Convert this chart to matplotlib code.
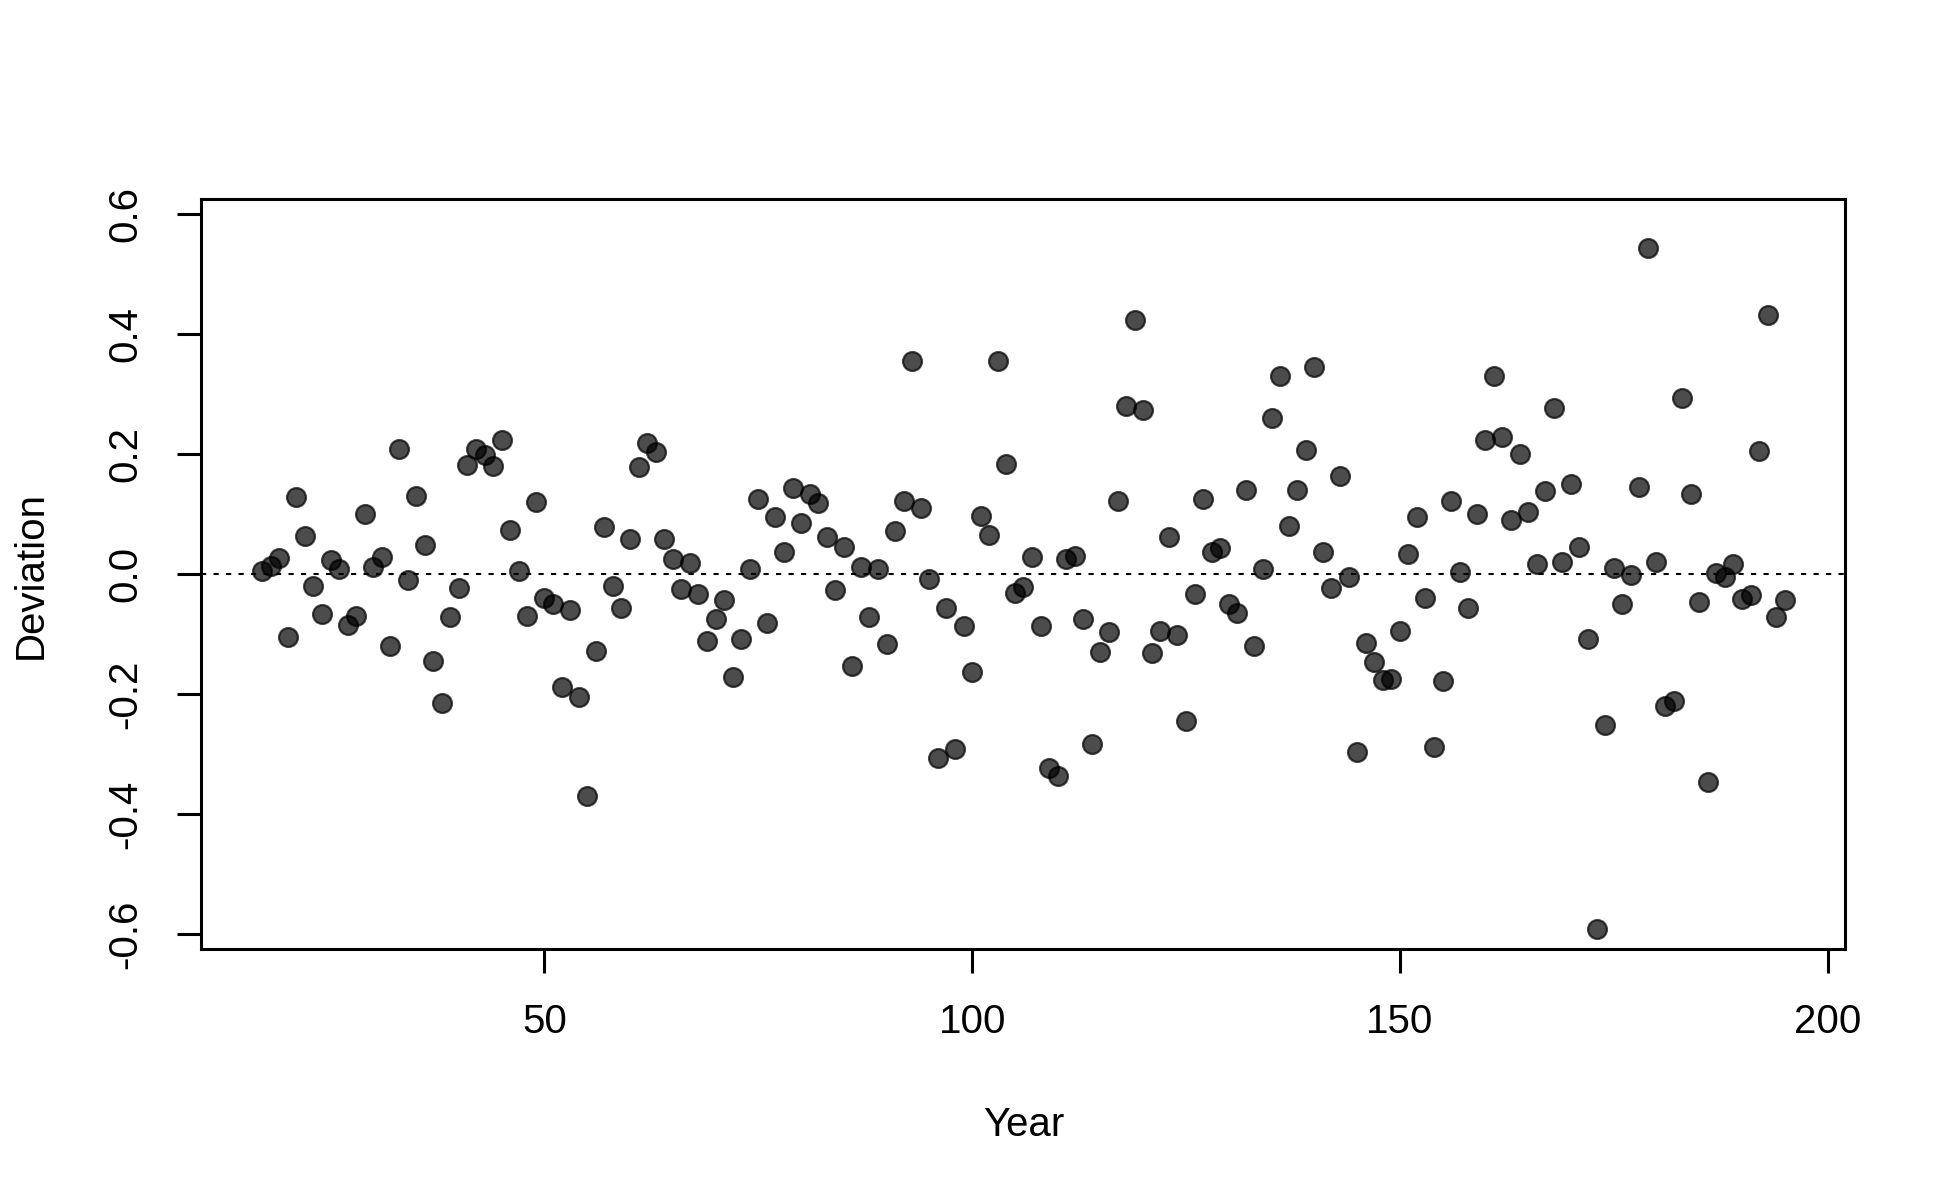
import numpy as np
import matplotlib
matplotlib.use("Agg")
import matplotlib.pyplot as plt

# one deviation per year, years 17..195
years = np.arange(17, 196)
deviation = [
    0.006, 0.014, 0.027, -0.105, 0.128, 0.064, -0.019, -0.066, 0.023, 0.008,
    -0.085, -0.070, 0.101, 0.012, 0.029, -0.120, 0.209, -0.010, 0.130, 0.048,
    -0.145, -0.215, -0.072, -0.023, 0.182, 0.209, 0.199, 0.180, 0.223, 0.074,
    0.006, -0.070, 0.120, -0.039, -0.050, -0.188, -0.060, -0.205, -0.370, -0.128,
    0.079, -0.019, -0.056, 0.058, 0.178, 0.219, 0.203, 0.058, 0.025, -0.025,
    0.019, -0.033, -0.112, -0.074, -0.043, -0.172, -0.108, 0.008, 0.126, -0.081,
    0.095, 0.037, 0.143, 0.085, 0.134, 0.118, 0.062, -0.027, 0.046, -0.153,
    0.012, -0.072, 0.008, -0.116, 0.072, 0.122, 0.356, 0.110, -0.008, -0.306,
    -0.056, -0.292, -0.087, -0.163, 0.097, 0.066, 0.356, 0.184, -0.031, -0.021,
    0.029, -0.087, -0.323, -0.337, 0.025, 0.031, -0.074, -0.283, -0.130, -0.097,
    0.122, 0.281, 0.424, 0.273, -0.132, -0.095, 0.062, -0.101, -0.244, -0.033,
    0.126, 0.037, 0.043, -0.050, -0.064, 0.141, -0.120, 0.008, 0.261, 0.331,
    0.081, 0.141, 0.207, 0.346, 0.037, -0.023, 0.163, -0.004, -0.296, -0.114,
    -0.147, -0.176, -0.174, -0.095, 0.033, 0.095, -0.039, -0.288, -0.178, 0.122,
    0.004, -0.056, 0.101, 0.223, 0.331, 0.228, 0.091, 0.201, 0.103, 0.017,
    0.139, 0.277, 0.021, 0.151, 0.046, -0.108, -0.592, -0.252, 0.010, -0.050,
    -0.002, 0.145, 0.544, 0.021, -0.219, -0.211, 0.294, 0.134, -0.046, -0.346,
    0.002, -0.004, 0.017, -0.041, -0.035, 0.205, 0.432, -0.072, -0.043,
]
xticks = [50, 100, 150, 200]
yticks = [-0.6, -0.4, -0.2, 0.0, 0.2, 0.4, 0.6]

plt.rcParams['font.family'] = ['Liberation Sans', 'DejaVu Sans']

fig = plt.figure(figsize=(19.5, 12), dpi=100)
ax = fig.add_axes([0.1033, 0.209, 0.8431, 0.625])

ax.axhline(0, color='black', lw=1.5, linestyle=(0, (2.5, 3.5)), zorder=1)
ax.scatter(years, deviation, s=185, c='black', alpha=0.7,
           edgecolors='black', linewidths=1.6, zorder=2)

ax.set_xlim(9.9, 202.1)
ax.set_ylim(-0.625, 0.625)
ax.set_xticks(xticks)
ax.set_xticklabels([str(t) for t in xticks])
ax.set_yticks(yticks)
ax.set_yticklabels(['%.1f' % t for t in yticks], rotation=90, va='center')

for sp in ax.spines.values():
    sp.set_linewidth(2.2)
ax.tick_params(axis='both', length=17, width=2.2, labelsize=29)
ax.tick_params(axis='x', pad=22)
ax.tick_params(axis='y', pad=24)

fig.text(0.5248, 0.0625, 'Year', fontsize=29, ha='center', va='center')
fig.text(0.016, 0.521, 'Deviation', fontsize=29, ha='center', va='center',
         rotation=90)

fig.savefig('out.png', dpi=100, facecolor='white')
